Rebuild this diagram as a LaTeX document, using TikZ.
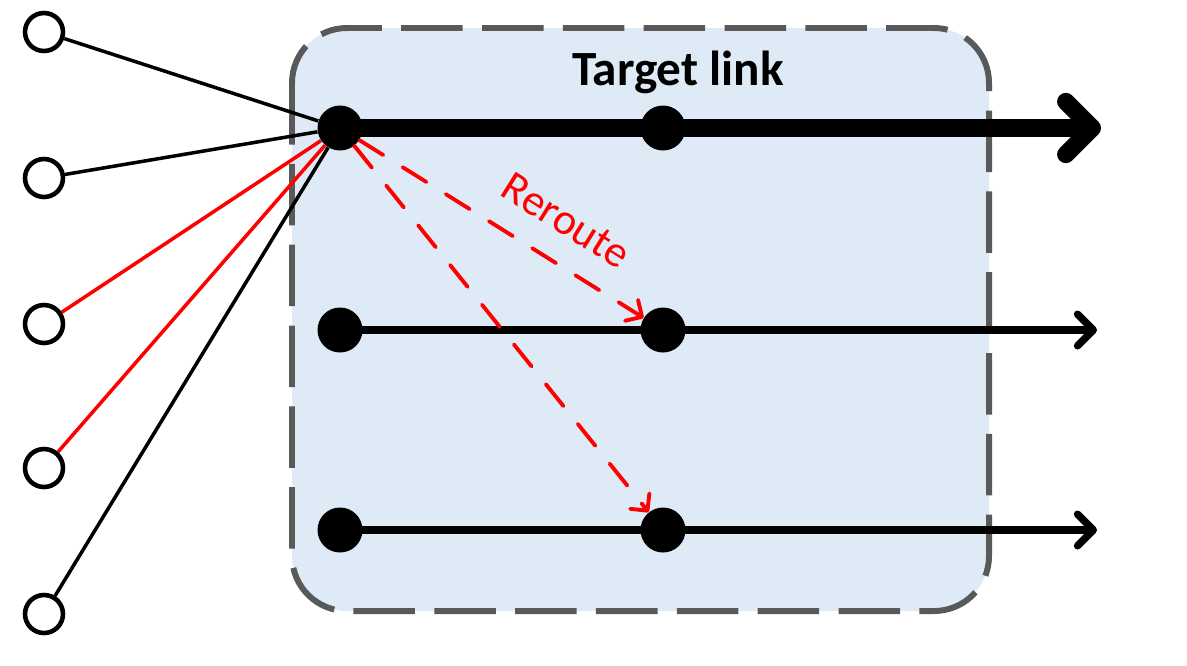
\documentclass[tikz,border=0pt]{standalone}
\usepackage{fontspec}
\setsansfont{Carlito}
\usepackage{tikz}
\usetikzlibrary{positioning, arrows.meta, backgrounds}
\definecolor{boxblue}{HTML}{DEEBF7}
\definecolor{boxgray}{HTML}{595959}

\begin{document}
\begin{tikzpicture}[
    port/.style={circle, draw, line width=2.6pt, fill=white,
                 minimum size=0.76cm, inner sep=0pt},
    dot/.style={circle, fill=black, minimum size=0.9cm, inner sep=0pt},
    feed/.style={line width=2pt},
    lane/.style={line width=4.2pt,
                 -{Straight Barb[length=9pt, width=18pt, round]}},
    rr/.style={red, line width=2.2pt, line cap=round,
               dash pattern=on 16pt off 13pt,
               -{Straight Barb[length=7pt, width=14pt, round]}},
]
\useasboundingbox (0,0) rectangle (23.74,-13.3);

% --- Region ---
\begin{scope}[on background layer]
\draw[boxgray, fill=boxblue, line width=3.4pt, rounded corners=1.1cm,
      dash pattern=on 35pt off 11pt]
    (5.84,-0.56) rectangle (19.78,-12.22);
\end{scope}
\node[font=\sffamily\bfseries\fontsize{28}{32}\selectfont] (title)
    at (13.56,-1.44) {Target link};

% --- Nodes ---
\foreach \i/\y in {1/-0.64, 2/-3.56, 3/-6.48, 4/-9.36, 5/-12.28}
    \node[port] (p\i) at (0.88,\y) {};
\node[dot] (hub) at (6.8,-2.56) {};
\node[dot] (t2) at (13.26,-2.56) {};
\node[dot] (r2a) at (6.8,-6.6) {};
\node[dot] (r2b) at (13.26,-6.6) {};
\node[dot] (r3a) at (6.8,-10.6) {};
\node[dot] (r3b) at (13.26,-10.6) {};
\coordinate (e1) at (22.02,-2.56);
\coordinate (e2) at (21.94,-6.6);
\coordinate (e3) at (21.94,-10.6);

% --- Links ---
\begin{scope}[on background layer]
\foreach \i/\c in {1/black, 2/black, 3/red, 4/red, 5/black}
    \draw[feed, \c] (p\i) -- (hub);
\draw[line width=10pt, -{Straight Barb[length=15pt, width=30pt, round]}]
    (hub.center) -- (e1);
\draw[lane] (r2a.center) -- (e2);
\draw[lane] (r3a.center) -- (e3);
\end{scope}

% --- Reroute ---
\draw[rr] (hub) -- (r2b)
    node[pos=0.65, sloped, above=11pt, font=\sffamily\fontsize{25}{30}\selectfont]
    (lbl) {Reroute};
\draw[rr] (hub) -- (r3b);
\end{tikzpicture}
\end{document}
